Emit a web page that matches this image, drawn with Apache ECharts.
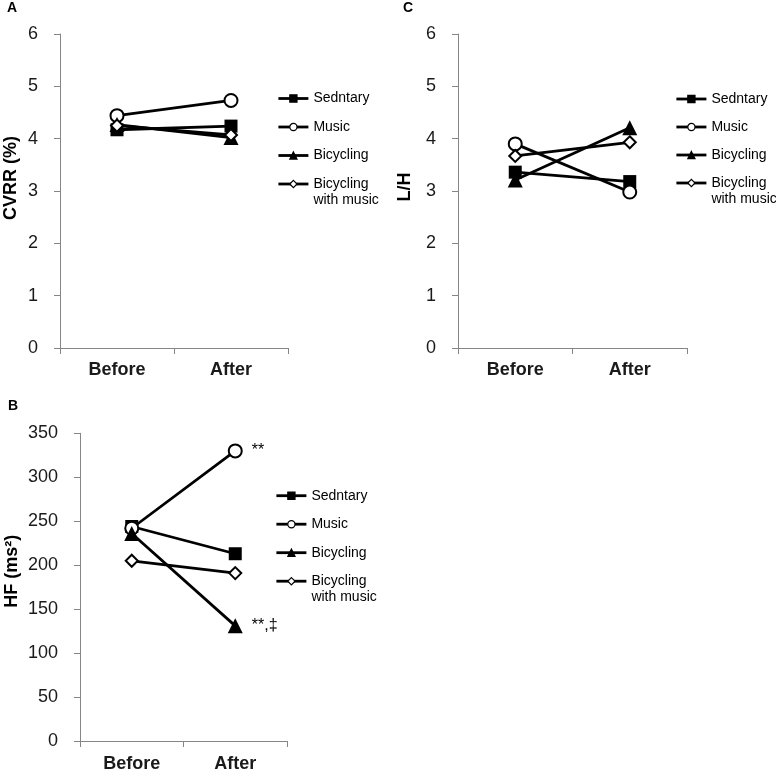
<!DOCTYPE html>
<html>
<head>
<meta charset="utf-8">
<script src="https://cdn.jsdelivr.net/npm/echarts@6/dist/echarts.min.js"></script>
<style>
html,body{margin:0;padding:0;background:#fff;}
#c{width:776px;height:773px;}
</style>
</head>
<body>
<div id="c"></div>
<script>
// ---- data ----
const categories = ['Before', 'After'];
const seriesNames = ['Sedntary', 'Music', 'Bicycling', 'Bicycling with music'];

// Panel A: CVRR (%)
const cvrrSedentary = [4.17, 4.24];
const cvrrMusic = [4.44, 4.73];
const cvrrBicycling = [4.27, 4.02];
const cvrrBicyclingMusic = [4.25, 4.07];

// Panel B: HF (ms^2)
const hfSedentary = [244, 213];
const hfMusic = [242, 330];
const hfBicycling = [236, 131];
const hfBicyclingMusic = [205, 191];
const hfMusicAnnot = ['', '**'];
const hfBicyclingAnnot = ['', '**,‡'];

// Panel C: L/H
const lhSedentary = [3.36, 3.18];
const lhMusic = [3.90, 2.98];
const lhBicycling = [3.21, 4.21];
const lhBicyclingMusic = [3.67, 3.93];

const yTicksA = [0, 6, 1];
const yTicksB = [0, 350, 50];
const yTicksC = [0, 6, 1];

// ---- styles ----
const FONT = 'Liberation Sans, Arial, sans-serif';
const symbolDefs = [
  { symbol: 'rect', size: 13, fill: '#000' },
  { symbol: 'circle', size: 13, fill: '#fff' },
  { symbol: 'triangle', size: 15, fill: '#000' },
  { symbol: 'diamond', size: 12, fill: '#fff' }
];

function withAnnot(values, annots) {
  return values.map((v, i) => {
    if (!annots || !annots[i]) return v;
    return {
      value: v,
      label: {
        show: true, position: 'right', distance: 9, formatter: annots[i],
        fontFamily: FONT, fontSize: 16, color: '#000'
      }
    };
  });
}

function makeSeries(gridIdx, arrays, annots) {
  return arrays.map((arr, k) => ({
    name: seriesNames[k],
    type: 'line',
    xAxisIndex: gridIdx,
    yAxisIndex: gridIdx,
    data: withAnnot(arr, annots ? annots[k] : null),
    symbol: symbolDefs[k].symbol,
    symbolSize: symbolDefs[k].size,
    showSymbol: true,
    lineStyle: { color: '#000', width: 2.8 },
    itemStyle: { color: symbolDefs[k].fill, borderColor: '#000', borderWidth: symbolDefs[k].fill === '#fff' ? 2 : 0 },
    emphasis: { disabled: true },
    z: 2 + k
  }));
}

function xAxisDef(gridIdx, margin) {
  return {
    type: 'category', gridIndex: gridIdx, data: categories, boundaryGap: true,
    axisLine: { lineStyle: { color: '#868686', width: 1 } },
    axisTick: { show: true, length: 6, lineStyle: { color: '#868686' } },
    axisLabel: { fontFamily: FONT, fontSize: 18, fontWeight: 'bold', color: '#1a1a1a', margin: margin },
    splitLine: { show: false }
  };
}

function yAxisDef(gridIdx, ticks, name, gap, pad) {
  return {
    type: 'value', gridIndex: gridIdx, min: ticks[0], max: ticks[1], interval: ticks[2],
    name: name, nameLocation: 'middle', nameGap: gap,
    nameTextStyle: { fontFamily: FONT, fontSize: 18, fontWeight: 'bold', color: '#000', padding: [0, 0, 0, pad] },
    axisLine: { show: true, lineStyle: { color: '#868686', width: 1 } },
    axisTick: { show: true, length: 6, lineStyle: { color: '#868686' } },
    axisLabel: { fontFamily: FONT, fontSize: 18, color: '#1a1a1a', margin: 22 },
    splitLine: { show: false }
  };
}

function legendDef(left, top, gap) {
  return {
    orient: 'vertical', left: left, top: top, padding: 0,
    itemWidth: 30, itemHeight: 9, itemGap: gap,
    data: seriesNames,
    selectedMode: false,
    formatter: function (name) {
      if (name === 'Bicycling with music') return '\nBicycling\nwith music';
      return '\n' + name + '\n';
    },
    textStyle: { fontFamily: FONT, fontSize: 14, color: '#000', lineHeight: 16 },
    itemStyle: { borderWidth: 1.2, borderColor: '#000' },
    lineStyle: { color: '#000', width: 2.8 }
  };
}

const option = {
  animation: false,
  backgroundColor: '#fff',
  title: [
    { text: 'A', left: 7, top: 1, padding: 0, textStyle: { fontFamily: FONT, fontSize: 14, fontWeight: 'bold', color: '#000' } },
    { text: 'C', left: 403, top: 1, padding: 0, textStyle: { fontFamily: FONT, fontSize: 14, fontWeight: 'bold', color: '#000' } },
    { text: 'B', left: 8, top: 399, padding: 0, textStyle: { fontFamily: FONT, fontSize: 14, fontWeight: 'bold', color: '#000' } }
  ],
  grid: [
    { left: 60, top: 34, width: 228, height: 314 },
    { left: 80, top: 433.3, width: 207, height: 310 },
    { left: 458, top: 34, width: 229, height: 314 }
  ],
  legend: [
    legendDef(277, 74.5, -19.5),
    legendDef(275, 471.7, -19.5),
    legendDef(675, 75, -20)
  ],
  xAxis: [xAxisDef(0, 13), xAxisDef(1, 14), xAxisDef(2, 13)],
  yAxis: [
    yAxisDef(0, yTicksA, 'CVRR (%)', 40, 26),
    yAxisDef(1, yTicksB, 'HF (ms²)', 59, 32),
    yAxisDef(2, yTicksC, 'L/H', 44, 8)
  ],
  series: [].concat(
    makeSeries(0, [cvrrSedentary, cvrrMusic, cvrrBicycling, cvrrBicyclingMusic]),
    makeSeries(1, [hfSedentary, hfMusic, hfBicycling, hfBicyclingMusic], [null, hfMusicAnnot, hfBicyclingAnnot, null]),
    makeSeries(2, [lhSedentary, lhMusic, lhBicycling, lhBicyclingMusic])
  )
};

const chart = echarts.init(document.getElementById('c'), null, { renderer: 'canvas' });
chart.setOption(option);
</script>
</body>
</html>
